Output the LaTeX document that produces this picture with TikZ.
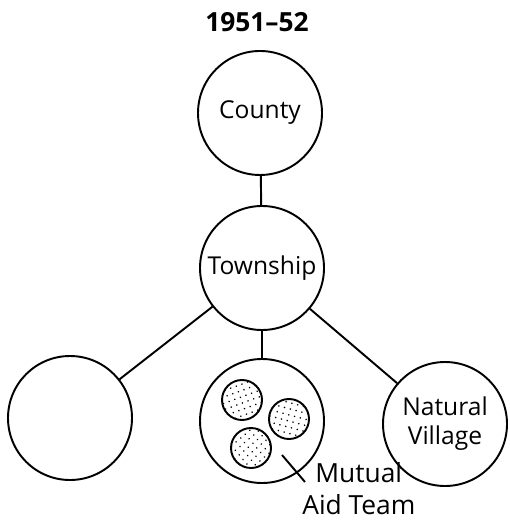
\documentclass[tikz,border=0pt]{standalone}
\usepackage{fontspec}
\setmainfont{Open Sans}
\usetikzlibrary{patterns.meta}

\begin{document}
\begin{tikzpicture}[
    unit/.style={draw, circle, line width=1.1pt, minimum size=2.48cm, inner sep=0pt, align=center, font=\fontsize{14}{16.5}\selectfont},
    team/.style={draw, circle, line width=1.1pt, minimum size=0.8cm, inner sep=0pt},
    link/.style={line width=1.1pt}
]
    \useasboundingbox (0,0) rectangle (10.18,-10.46);

    \draw

    %% levels
    (5.14,-0.44)node[font=\fontsize{15}{18}\selectfont\bfseries](year){1951--52}
    (5.20,-2.26)node[unit](county){County}
    (5.24,-5.36)node[unit](township){Township}

    %% villages
    (1.40,-8.36)node[unit](v1){}
    (5.24,-8.42)node[unit](v2){}
    (8.90,-8.48)node[unit](v3){Natural\\Village}

    %% mutual aid teams
    (4.84,-8.00)node[team, pattern={Dots[distance=3.4pt, radius=0.5pt, angle=20]}](t1){}
    (5.78,-8.38)node[team, pattern={Dots[distance=3.4pt, radius=0.5pt, angle=-15]}](t2){}
    (5.02,-8.96)node[team, pattern={Dots[distance=3.4pt, radius=0.5pt, angle=40]}](t3){}
    (6.04,-9.24)node[anchor=north west, inner sep=0pt, align=left, font=\fontsize{15}{18.2}\selectfont](mat){\hspace{0.26cm}Mutual\\Aid Team}
    ;

    \coordinate (ptr) at (5.64,-9.10);
    \coordinate (tip) at (6.10,-9.64);

    \draw[link] (county) -- (township);
    \draw[link] (township) -- (v1);
    \draw[link] (township) -- (v2);
    \draw[link] (township) -- (v3);
    \draw[link] (ptr) -- (tip);
\end{tikzpicture}
\end{document}
